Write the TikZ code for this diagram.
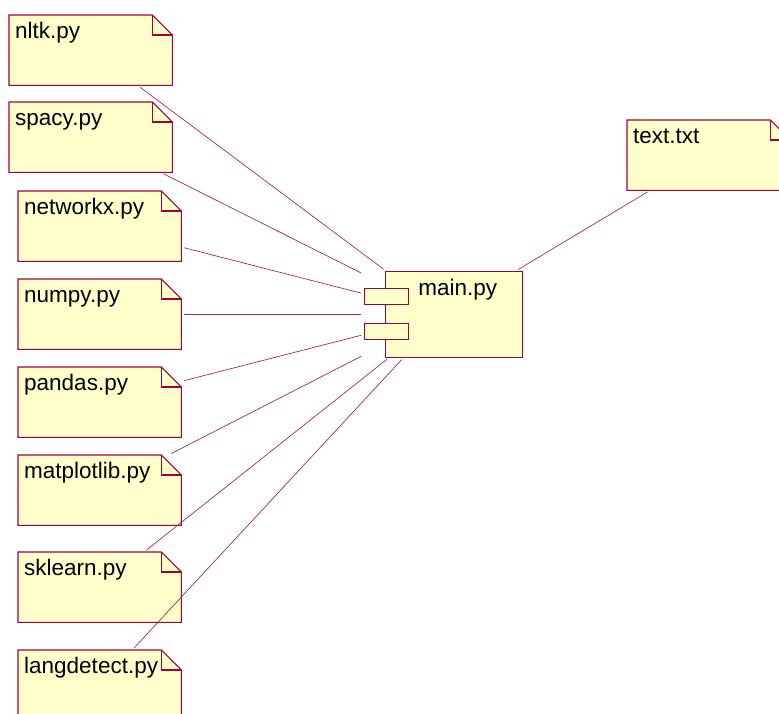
\documentclass[tikz,border=0pt]{standalone}
\usepackage{fontspec}
\setmainfont{Liberation Sans}
\usetikzlibrary{positioning,backgrounds}
\definecolor{roseline}{RGB}{165,0,52}
\definecolor{noteyellow}{RGB}{255,255,204}
\begin{document}
\begin{tikzpicture}[x=1pt,y=-1pt,
    notefile/.style={anchor=north west,inner xsep=6pt,inner ysep=0pt,
      text width=151pt,align=left,text height=23pt,text depth=47pt,
      font=\fontsize{22.5}{26}\selectfont},
    noteedge/.style={draw=roseline,fill=noteyellow,line width=1.1pt,line join=miter},
    compbody/.style={draw=roseline,fill=noteyellow,line width=1.1pt,inner sep=0pt,
      text width=137pt,align=center,text height=24pt,text depth=62pt,
      font=\fontsize{22.5}{26}\selectfont},
    port/.style={draw=roseline,fill=noteyellow,line width=1.1pt,inner sep=0pt,
      minimum width=44pt,minimum height=16pt,anchor=north west},
    link/.style={draw=roseline!85,line width=0.7pt,shorten <=3pt,shorten >=3pt}]
    \useasboundingbox (0,0) rectangle (779,713);
    % files
    \node[notefile] (nltk)       at (9,15)   {nltk.py};
    \node[notefile] (spacy)      at (9,102)  {spacy.py};
    \node[notefile] (networkx)   at (18,191) {networkx.py};
    \node[notefile] (numpy)      at (18,279) {numpy.py};
    \node[notefile] (pandas)     at (18,367) {pandas.py};
    \node[notefile] (matplotlib) at (18,455) {matplotlib.py};
    \node[notefile] (sklearn)    at (18,552) {sklearn.py};
    \node[notefile] (langdetect) at (18,650) {langdetect.py};
    \node[notefile] (text)       at (627,120) {text.txt};
    \begin{scope}[on background layer]
        \foreach \n in {nltk,spacy,networkx,numpy,pandas,matplotlib,sklearn,langdetect,text} {
            \draw[noteedge] (\n.north west) -- ([xshift=-20pt]\n.north east)
                -- ([yshift=-20pt]\n.north east) -- (\n.south east)
                -- (\n.south west) -- cycle;
            \draw[noteedge,fill=none] ([xshift=-20pt]\n.north east) |- ([yshift=-20pt]\n.north east);
        }
    \end{scope}
    % component
    \node[inner sep=0pt,minimum width=159pt,minimum height=86pt,anchor=north west] (main) at (364,271) {};
    \node[compbody,anchor=north east] (mainbody) at (main.north east) {\hspace*{7pt}main.py};
    \node[port] (portA) at ([yshift=-17pt]main.north west) {};
    \node[port] (portB) at ([yshift=-52pt]main.north west) {};
    % dependencies
    \foreach \f in {nltk,spacy,networkx,numpy,pandas,matplotlib,sklearn,langdetect,text}
        \draw[link] (\f) -- (main);
\end{tikzpicture}
\end{document}
